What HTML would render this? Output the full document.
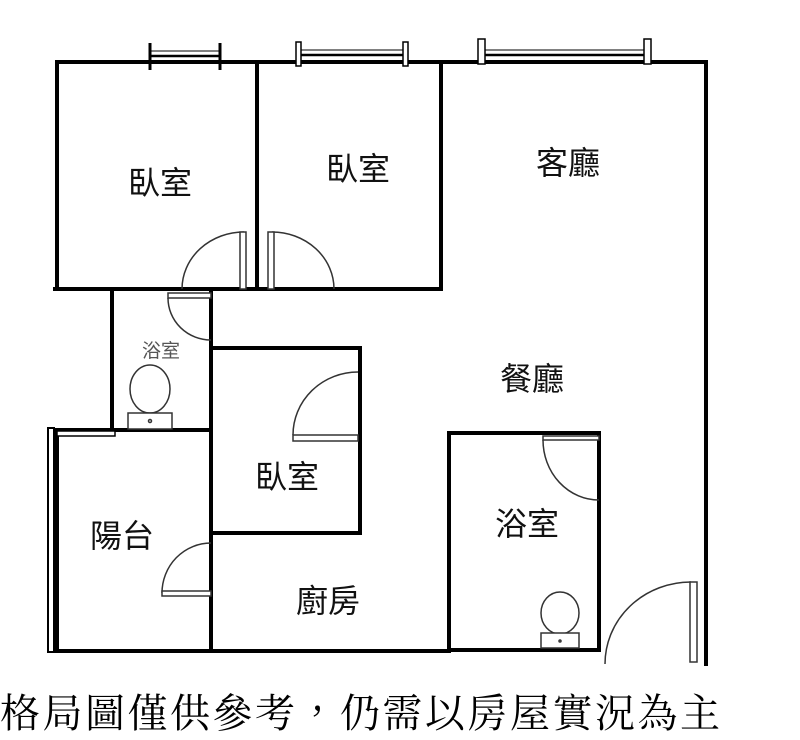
<!DOCTYPE html>
<html><head><meta charset="utf-8"><style>
html,body{margin:0;padding:0;background:#fff;width:800px;height:740px;overflow:hidden}
svg{display:block}
.t{font-family:"Liberation Sans","Noto Sans CJK TC",sans-serif;fill:#111}
</style></head><body>
<svg width="800" height="740" viewBox="0 0 800 740" xmlns="http://www.w3.org/2000/svg">
<g stroke="#000" stroke-width="4" fill="none" stroke-linecap="square">
<line x1="57" y1="62" x2="706" y2="62"/>
<line x1="57" y1="62" x2="57" y2="289"/>
<line x1="55" y1="289" x2="440" y2="289"/>
<line x1="257" y1="62" x2="257" y2="289"/>
<line x1="441" y1="62" x2="441" y2="289"/>
<line x1="706" y1="62" x2="706" y2="664"/>
<line x1="112" y1="289" x2="112" y2="430"/>
<line x1="211" y1="289" x2="211" y2="651"/>
<line x1="57" y1="430" x2="211" y2="430"/>
<line x1="57" y1="430" x2="57" y2="651"/>
<line x1="57" y1="651" x2="449" y2="651"/>
<line x1="211" y1="348" x2="360" y2="348"/>
<line x1="360" y1="348" x2="360" y2="533"/>
<line x1="211" y1="533" x2="360" y2="533"/>
<line x1="449" y1="433" x2="599" y2="433"/>
<line x1="449" y1="433" x2="449" y2="650"/>
<line x1="599" y1="433" x2="599" y2="650"/>
<line x1="449" y1="650" x2="597" y2="650"/>
</g>
<rect x="48" y="428" width="6" height="224" fill="#fff" stroke="#000" stroke-width="2"/>
<rect x="57" y="431" width="58" height="5" fill="#fff" stroke="#000" stroke-width="1.5"/>
<g stroke="#000" fill="#fff">
<line x1="150" y1="56" x2="220" y2="56" stroke-width="2.5"/>
<line x1="150" y1="51" x2="220" y2="51" stroke-width="1"/>
<line x1="150" y1="43" x2="150" y2="70" stroke-width="3"/>
<line x1="220" y1="43" x2="220" y2="70" stroke-width="3"/>
<line x1="298" y1="55" x2="405" y2="55" stroke-width="2.5"/>
<line x1="298" y1="50" x2="405" y2="50" stroke-width="1"/>
<rect x="296" y="42" width="5" height="24" stroke-width="1.5"/>
<rect x="403" y="42" width="5" height="24" stroke-width="1.5"/>
<line x1="482" y1="55" x2="649" y2="55" stroke-width="2.5"/>
<line x1="482" y1="50" x2="649" y2="50" stroke-width="1"/>
<rect x="478" y="39" width="7" height="25" stroke-width="1.5"/>
<rect x="644" y="39" width="7" height="25" stroke-width="1.5"/>
</g>
<g stroke="#333" stroke-width="1.5" fill="none">
<path d="M182 289 A62 57 0 0 1 244 232"/>
<rect x="240" y="232" width="6" height="57" fill="#fff"/>
<path d="M334 289 A62 57 0 0 0 272 232"/>
<rect x="268" y="232" width="6" height="57" fill="#fff"/>
<path d="M168 298 A43 42 0 0 0 211 340"/>
<rect x="168" y="293" width="43" height="5" fill="#fff"/>
<path d="M293 435 A65 63 0 0 1 358 372"/>
<rect x="293" y="435" width="65" height="6" fill="#fff"/>
<path d="M162 593 A49 50 0 0 1 211 543"/>
<rect x="162" y="591" width="49" height="5" fill="#fff"/>
<path d="M543 440 A56 60 0 0 0 599 500"/>
<rect x="543" y="436" width="56" height="4" fill="#fff"/>
<path d="M605 664 A86 82 0 0 1 691 582"/>
<rect x="690" y="582" width="7" height="80" fill="#fff"/>
</g>
<g stroke="#333" stroke-width="1.5" fill="#fff">
<ellipse cx="150" cy="389" rx="20" ry="24"/>
<rect x="128" y="413" width="44" height="16"/>
<circle cx="150" cy="421" r="1.5"/>
<ellipse cx="560" cy="613" rx="19" ry="21"/>
<rect x="541" y="633" width="38" height="15"/>
<circle cx="560" cy="641" r="1"/>
</g>
<g class="t" font-size="32">
<text x="160" y="194" text-anchor="middle">臥室</text>
<text x="358" y="180" text-anchor="middle">臥室</text>
<text x="568" y="174" text-anchor="middle">客廳</text>
<text x="532" y="390" text-anchor="middle">餐廳</text>
<text x="287" y="488" text-anchor="middle">臥室</text>
<text x="122" y="547" text-anchor="middle">陽台</text>
<text x="527" y="535" text-anchor="middle">浴室</text>
<text x="328" y="612" text-anchor="middle">廚房</text>
<text x="161" y="357" text-anchor="middle" font-size="19" style="fill:#555">浴室</text>
</g>
<text x="0" y="727" font-family="'Noto Serif CJK TC','Noto Serif CJK SC',serif" font-size="40" textLength="720" lengthAdjust="spacing" fill="#000">格局圖僅供參考，仍需以房屋實況為主</text>
</svg>
</body></html>
